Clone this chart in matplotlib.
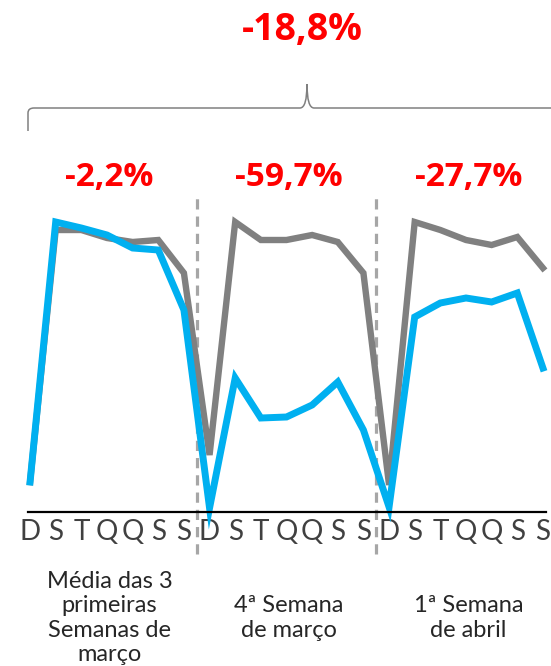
import matplotlib.pyplot as plt
from matplotlib.path import Path
from matplotlib.patches import PathPatch

# dados (índice relativo)
dias = ["D", "S", "T", "Q", "Q", "S", "S"] * 3
azul = [30, 290, 284, 277, 264, 262, 202, 4, 134, 94, 95, 107, 130, 82,
        5, 195, 209, 214, 210, 219, 144]
cinza = [30, 282, 282, 274, 270, 272, 239, 57, 290, 272, 272, 277, 270, 239,
         27, 290, 282, 272, 267, 275, 244]
variacoes = ["-2,2%", "-59,7%", "-27,7%"]
grupos = ["Média das 3\nprimeiras\nSemanas de\nmarço",
          "4ª Semana\nde março",
          "1ª Semana\nde abril"]
total = "-18,8%"

W, H = 551, 666
fig = plt.figure(figsize=(W / 100, H / 100), dpi=100)
# eixo em pixels: x de 28 a 546, y de 190 a 512
ax = fig.add_axes([28 / W, 1 - 512 / H, (546 - 28) / W, (512 - 190) / H])

x = list(range(len(dias)))
ax.plot(x, cinza, color="#808080", lw=4.6, solid_joinstyle="miter", clip_on=False)
ax.plot(x, azul, color="#00B0F0", lw=5.0, solid_joinstyle="miter", clip_on=False)

for xv in (6.5, 13.5):
    ax.plot([xv, xv], [-42, 317], color="#A6A6A6", lw=2.3, ls=(0, (3.2, 2.2)),
            clip_on=False, zorder=0)

ax.set_xlim(-0.08, 20.12)
ax.set_ylim(0, 322)
ax.set_xticks(x)
ax.set_xticklabels(dias, fontsize=20, color="#404040", family="Lato")
ax.tick_params(axis="x", length=0, pad=5)
ax.set_yticks([])
for s in ("left", "right", "top"):
    ax.spines[s].set_visible(False)
ax.spines["bottom"].set_linewidth(1.6)
ax.spines["bottom"].set_color("#000000")

for i, (v, g) in enumerate(zip(variacoes, grupos)):
    cx = 3 + 7 * i
    ax.text(cx + 0.1, 512 - 177, v, ha="center", va="center", fontsize=24,
            fontweight="bold", color="#FF0000", family="Open Sans", clip_on=False)
    ax.text(cx + 0.1, 512 - 618, g, ha="center", va="center", fontsize=17,
            color="#262626", family="Lato", linespacing=1.2, clip_on=False)

fig.text(302 / W, 1 - 30 / H, total, ha="center", va="center", fontsize=27,
         fontweight="bold", color="#FF0000", family="Open Sans")

# chave horizontal no topo
def px(xp, yp):
    return (xp / W, 1 - yp / H)

verts = [px(28, 131), px(28, 113), px(28, 108), px(34, 108), px(300, 108),
         px(307, 108), px(307, 84), px(307, 108), px(314, 108), px(560, 108)]
codes = [Path.MOVETO, Path.LINETO, Path.CURVE3, Path.CURVE3, Path.LINETO,
         Path.CURVE3, Path.CURVE3, Path.CURVE3, Path.CURVE3, Path.LINETO]
fig.add_artist(PathPatch(Path(verts, codes), transform=fig.transFigure,
                         fill=False, edgecolor="#808080", lw=1.1))

fig.savefig("out.png", dpi=100)
